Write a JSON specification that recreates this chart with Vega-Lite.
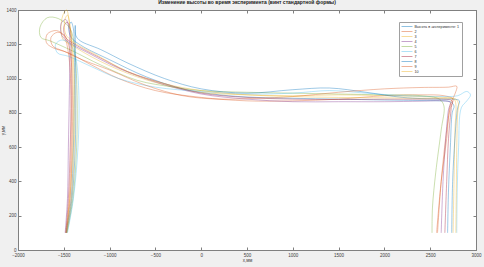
{
  "$schema": "https://vega.github.io/schema/vega-lite/v6.json",
  "autosize": {"type": "none"},
  "width": 458,
  "height": 240,
  "padding": {"left": 18, "top": 10, "right": 8, "bottom": 17},
  "background": "#f0f0f0",
  "title": {"text": "Изменение высоты во время эксперимента (винт стандартной формы)", "fontSize": 5, "fontWeight": "bold", "font": "Liberation Sans", "color": "#202020", "offset": 2, "anchor": "middle"},
  "config": {
    "view": {"fill": "white", "stroke": "#808080", "strokeWidth": 1},
    "font": "Liberation Sans",
    "axis": {"grid": false, "domainColor": "#808080", "tickColor": "#808080", "tickSize": -3, "labelPadding": 5, "labelFontSize": 4.5, "labelColor": "#404040", "titleFontSize": 4.5, "titleFontWeight": "normal", "titleColor": "#404040", "labelFlush": false, "format": "d"}
  },
  "data": {"values": [
    {"s":"1","i":0,"x":-1475,"y":100},{"s":"1","i":1,"x":-1420,"y":300},{"s":"1","i":2,"x":-1395,"y":600},{"s":"1","i":3,"x":-1385,"y":900},{"s":"1","i":4,"x":-1385,"y":1150},{"s":"1","i":5,"x":-1395,"y":1290},{"s":"1","i":6,"x":-1420,"y":1330},{"s":"1","i":7,"x":-1445,"y":1300},{"s":"1","i":8,"x":-1420,"y":1240},{"s":"1","i":9,"x":-1300,"y":1190},{"s":"1","i":10,"x":-1000,"y":1110},{"s":"1","i":11,"x":-600,"y":1010},{"s":"1","i":12,"x":-200,"y":940},{"s":"1","i":13,"x":200,"y":905},{"s":"1","i":14,"x":600,"y":890},{"s":"1","i":15,"x":1000,"y":885},{"s":"1","i":16,"x":1500,"y":880},{"s":"1","i":17,"x":2000,"y":875},{"s":"1","i":18,"x":2400,"y":872},{"s":"1","i":19,"x":2600,"y":870},{"s":"1","i":20,"x":2720,"y":865},{"s":"1","i":21,"x":2760,"y":840},{"s":"1","i":22,"x":2740,"y":800},{"s":"1","i":23,"x":2720,"y":600},{"s":"1","i":24,"x":2700,"y":350},{"s":"1","i":25,"x":2690,"y":100},

    {"s":"2","i":0,"x":-1470,"y":100},{"s":"2","i":1,"x":-1440,"y":300},{"s":"2","i":2,"x":-1420,"y":600},{"s":"2","i":3,"x":-1420,"y":900},{"s":"2","i":4,"x":-1450,"y":1150},{"s":"2","i":5,"x":-1500,"y":1250},{"s":"2","i":6,"x":-1580,"y":1280},{"s":"2","i":7,"x":-1680,"y":1260},{"s":"2","i":8,"x":-1690,"y":1210},{"s":"2","i":9,"x":-1620,"y":1180},{"s":"2","i":10,"x":-1450,"y":1150},{"s":"2","i":11,"x":-1200,"y":1080},{"s":"2","i":12,"x":-900,"y":1000},{"s":"2","i":13,"x":-500,"y":930},{"s":"2","i":14,"x":0,"y":890},{"s":"2","i":15,"x":500,"y":870},{"s":"2","i":16,"x":1000,"y":870},{"s":"2","i":17,"x":1500,"y":880},{"s":"2","i":18,"x":2000,"y":900},{"s":"2","i":19,"x":2400,"y":905},{"s":"2","i":20,"x":2650,"y":900},{"s":"2","i":21,"x":2750,"y":880},{"s":"2","i":22,"x":2720,"y":830},{"s":"2","i":23,"x":2680,"y":700},{"s":"2","i":24,"x":2620,"y":400},{"s":"2","i":25,"x":2580,"y":100},

    {"s":"3","i":0,"x":-1480,"y":100},{"s":"3","i":1,"x":-1435,"y":300},{"s":"3","i":2,"x":-1400,"y":600},{"s":"3","i":3,"x":-1395,"y":900},{"s":"3","i":4,"x":-1410,"y":1150},{"s":"3","i":5,"x":-1440,"y":1330},{"s":"3","i":6,"x":-1470,"y":1400},{"s":"3","i":7,"x":-1510,"y":1370},{"s":"3","i":8,"x":-1530,"y":1280},{"s":"3","i":9,"x":-1510,"y":1230},{"s":"3","i":10,"x":-1400,"y":1190},{"s":"3","i":11,"x":-1100,"y":1100},{"s":"3","i":12,"x":-700,"y":1010},{"s":"3","i":13,"x":-300,"y":950},{"s":"3","i":14,"x":0,"y":920},{"s":"3","i":15,"x":500,"y":905},{"s":"3","i":16,"x":1000,"y":900},{"s":"3","i":17,"x":1500,"y":905},{"s":"3","i":18,"x":2000,"y":900},{"s":"3","i":19,"x":2400,"y":895},{"s":"3","i":20,"x":2650,"y":890},{"s":"3","i":21,"x":2760,"y":880},{"s":"3","i":22,"x":2780,"y":850},{"s":"3","i":23,"x":2770,"y":700},{"s":"3","i":24,"x":2760,"y":400},{"s":"3","i":25,"x":2750,"y":100},

    {"s":"4","i":0,"x":-1485,"y":100},{"s":"4","i":1,"x":-1460,"y":300},{"s":"4","i":2,"x":-1450,"y":600},{"s":"4","i":3,"x":-1440,"y":900},{"s":"4","i":4,"x":-1435,"y":1150},{"s":"4","i":5,"x":-1445,"y":1300},{"s":"4","i":6,"x":-1480,"y":1345},{"s":"4","i":7,"x":-1530,"y":1320},{"s":"4","i":8,"x":-1520,"y":1250},{"s":"4","i":9,"x":-1440,"y":1210},{"s":"4","i":10,"x":-1200,"y":1140},{"s":"4","i":11,"x":-900,"y":1060},{"s":"4","i":12,"x":-500,"y":980},{"s":"4","i":13,"x":0,"y":910},{"s":"4","i":14,"x":500,"y":880},{"s":"4","i":15,"x":1000,"y":865},{"s":"4","i":16,"x":1500,"y":865},{"s":"4","i":17,"x":2000,"y":865},{"s":"4","i":18,"x":2400,"y":868},{"s":"4","i":19,"x":2650,"y":870},{"s":"4","i":20,"x":2720,"y":860},{"s":"4","i":21,"x":2700,"y":820},{"s":"4","i":22,"x":2670,"y":650},{"s":"4","i":23,"x":2640,"y":400},{"s":"4","i":24,"x":2620,"y":100},

    {"s":"5","i":0,"x":-1465,"y":100},{"s":"5","i":1,"x":-1400,"y":300},{"s":"5","i":2,"x":-1360,"y":600},{"s":"5","i":3,"x":-1355,"y":900},{"s":"5","i":4,"x":-1380,"y":1150},{"s":"5","i":5,"x":-1430,"y":1290},{"s":"5","i":6,"x":-1560,"y":1350},{"s":"5","i":7,"x":-1680,"y":1355},{"s":"5","i":8,"x":-1760,"y":1300},{"s":"5","i":9,"x":-1750,"y":1240},{"s":"5","i":10,"x":-1650,"y":1220},{"s":"5","i":11,"x":-1400,"y":1160},{"s":"5","i":12,"x":-1100,"y":1080},{"s":"5","i":13,"x":-700,"y":990},{"s":"5","i":14,"x":-300,"y":950},{"s":"5","i":15,"x":0,"y":930},{"s":"5","i":16,"x":500,"y":920},{"s":"5","i":17,"x":1000,"y":915},{"s":"5","i":18,"x":1500,"y":910},{"s":"5","i":19,"x":2000,"y":905},{"s":"5","i":20,"x":2400,"y":900},{"s":"5","i":21,"x":2600,"y":880},{"s":"5","i":22,"x":2650,"y":840},{"s":"5","i":23,"x":2620,"y":700},{"s":"5","i":24,"x":2560,"y":450},{"s":"5","i":25,"x":2525,"y":250},{"s":"5","i":26,"x":2520,"y":100},

    {"s":"6","i":0,"x":-1460,"y":100},{"s":"6","i":1,"x":-1395,"y":300},{"s":"6","i":2,"x":-1345,"y":600},{"s":"6","i":3,"x":-1335,"y":900},{"s":"6","i":4,"x":-1370,"y":1120},{"s":"6","i":5,"x":-1430,"y":1200},{"s":"6","i":6,"x":-1520,"y":1225},{"s":"6","i":7,"x":-1590,"y":1200},{"s":"6","i":8,"x":-1570,"y":1150},{"s":"6","i":9,"x":-1450,"y":1130},{"s":"6","i":10,"x":-1200,"y":1070},{"s":"6","i":11,"x":-900,"y":1000},{"s":"6","i":12,"x":-500,"y":950},{"s":"6","i":13,"x":0,"y":925},{"s":"6","i":14,"x":500,"y":910},{"s":"6","i":15,"x":1000,"y":915},{"s":"6","i":16,"x":1400,"y":930},{"s":"6","i":17,"x":1800,"y":915},{"s":"6","i":18,"x":2200,"y":900},{"s":"6","i":19,"x":2600,"y":895},{"s":"6","i":20,"x":2800,"y":900},{"s":"6","i":21,"x":2900,"y":925},{"s":"6","i":22,"x":2940,"y":905},{"s":"6","i":23,"x":2900,"y":870},{"s":"6","i":24,"x":2840,"y":830},{"s":"6","i":25,"x":2810,"y":600},{"s":"6","i":26,"x":2795,"y":350},{"s":"6","i":27,"x":2790,"y":100},

    {"s":"7","i":0,"x":-1478,"y":100},{"s":"7","i":1,"x":-1450,"y":300},{"s":"7","i":2,"x":-1430,"y":600},{"s":"7","i":3,"x":-1420,"y":900},{"s":"7","i":4,"x":-1420,"y":1150},{"s":"7","i":5,"x":-1430,"y":1290},{"s":"7","i":6,"x":-1465,"y":1330},{"s":"7","i":7,"x":-1500,"y":1300},{"s":"7","i":8,"x":-1480,"y":1240},{"s":"7","i":9,"x":-1380,"y":1200},{"s":"7","i":10,"x":-1100,"y":1120},{"s":"7","i":11,"x":-800,"y":1040},{"s":"7","i":12,"x":-400,"y":970},{"s":"7","i":13,"x":0,"y":915},{"s":"7","i":14,"x":500,"y":890},{"s":"7","i":15,"x":1000,"y":880},{"s":"7","i":16,"x":1500,"y":878},{"s":"7","i":17,"x":2000,"y":880},{"s":"7","i":18,"x":2400,"y":880},{"s":"7","i":19,"x":2650,"y":880},{"s":"7","i":20,"x":2740,"y":870},{"s":"7","i":21,"x":2730,"y":830},{"s":"7","i":22,"x":2700,"y":650},{"s":"7","i":23,"x":2680,"y":400},{"s":"7","i":24,"x":2660,"y":100},

    {"s":"8","i":0,"x":-1470,"y":100},{"s":"8","i":1,"x":-1410,"y":300},{"s":"8","i":2,"x":-1375,"y":600},{"s":"8","i":3,"x":-1370,"y":900},{"s":"8","i":4,"x":-1372,"y":1150},{"s":"8","i":5,"x":-1375,"y":1310},{"s":"8","i":6,"x":-1368,"y":1250},{"s":"8","i":7,"x":-1320,"y":1220},{"s":"8","i":8,"x":-1100,"y":1170},{"s":"8","i":9,"x":-800,"y":1090},{"s":"8","i":10,"x":-400,"y":1000},{"s":"8","i":11,"x":0,"y":940},{"s":"8","i":12,"x":500,"y":915},{"s":"8","i":13,"x":1000,"y":935},{"s":"8","i":14,"x":1400,"y":945},{"s":"8","i":15,"x":1800,"y":920},{"s":"8","i":16,"x":2200,"y":890},{"s":"8","i":17,"x":2600,"y":880},{"s":"8","i":18,"x":2760,"y":880},{"s":"8","i":19,"x":2820,"y":870},{"s":"8","i":20,"x":2800,"y":830},{"s":"8","i":21,"x":2770,"y":650},{"s":"8","i":22,"x":2745,"y":400},{"s":"8","i":23,"x":2735,"y":100},

    {"s":"9","i":0,"x":-1472,"y":100},{"s":"9","i":1,"x":-1430,"y":300},{"s":"9","i":2,"x":-1410,"y":600},{"s":"9","i":3,"x":-1405,"y":900},{"s":"9","i":4,"x":-1430,"y":1150},{"s":"9","i":5,"x":-1490,"y":1250},{"s":"9","i":6,"x":-1570,"y":1270},{"s":"9","i":7,"x":-1640,"y":1240},{"s":"9","i":8,"x":-1620,"y":1190},{"s":"9","i":9,"x":-1500,"y":1160},{"s":"9","i":10,"x":-1300,"y":1110},{"s":"9","i":11,"x":-1000,"y":1050},{"s":"9","i":12,"x":-600,"y":960},{"s":"9","i":13,"x":-200,"y":900},{"s":"9","i":14,"x":200,"y":880},{"s":"9","i":15,"x":600,"y":885},{"s":"9","i":16,"x":1000,"y":895},{"s":"9","i":17,"x":1500,"y":920},{"s":"9","i":18,"x":2000,"y":940},{"s":"9","i":19,"x":2400,"y":948},{"s":"9","i":20,"x":2700,"y":950},{"s":"9","i":21,"x":2790,"y":955},{"s":"9","i":22,"x":2770,"y":910},{"s":"9","i":23,"x":2720,"y":850},{"s":"9","i":24,"x":2680,"y":650},{"s":"9","i":25,"x":2620,"y":400},{"s":"9","i":26,"x":2570,"y":100},

    {"s":"10","i":0,"x":-1468,"y":100},{"s":"10","i":1,"x":-1415,"y":300},{"s":"10","i":2,"x":-1385,"y":600},{"s":"10","i":3,"x":-1380,"y":900},{"s":"10","i":4,"x":-1400,"y":1150},{"s":"10","i":5,"x":-1430,"y":1300},{"s":"10","i":6,"x":-1460,"y":1370},{"s":"10","i":7,"x":-1490,"y":1340},{"s":"10","i":8,"x":-1480,"y":1260},{"s":"10","i":9,"x":-1400,"y":1215},{"s":"10","i":10,"x":-1150,"y":1140},{"s":"10","i":11,"x":-800,"y":1040},{"s":"10","i":12,"x":-400,"y":970},{"s":"10","i":13,"x":0,"y":930},{"s":"10","i":14,"x":500,"y":905},{"s":"10","i":15,"x":1000,"y":895},{"s":"10","i":16,"x":1500,"y":890},{"s":"10","i":17,"x":2000,"y":888},{"s":"10","i":18,"x":2400,"y":885},{"s":"10","i":19,"x":2650,"y":885},{"s":"10","i":20,"x":2780,"y":880},{"s":"10","i":21,"x":2810,"y":850},{"s":"10","i":22,"x":2800,"y":800},{"s":"10","i":23,"x":2790,"y":600},{"s":"10","i":24,"x":2785,"y":350},{"s":"10","i":25,"x":2780,"y":100}
  ]},
  "layer": [
    {
      "mark": {"type": "line", "strokeWidth": 0.7, "opacity": 0.55, "interpolate": "catmull-rom"},
      "encoding": {
        "x": {"field": "x", "type": "quantitative", "scale": {"domain": [-2000, 3000], "nice": false, "zero": false}, "axis": {"values": [-2000,-1500,-1000,-500,0,500,1000,1500,2000,2500,3000], "title": "x,мм", "titlePadding": 1}},
        "y": {"field": "y", "type": "quantitative", "scale": {"domain": [0, 1400], "nice": false, "zero": false}, "axis": {"values": [0,200,400,600,800,1000,1200,1400], "title": "y,мм", "titleX": -13}},
        "order": {"field": "i", "type": "quantitative"},
        "color": {"field": "s", "type": "nominal",
          "scale": {"domain": ["1","2","3","4","5","6","7","8","9","10"], "range": ["#0072BD","#D95319","#EDB120","#7E2F8E","#77AC30","#4DBEEE","#A2142F","#0072BD","#D95319","#EDB120"]},
          "legend": {"title": null, "orient": "none", "legendX": 381, "legendY": 12, "labelExpr": "datum.label == '1' ? 'Высота в эксперименте: 1' : datum.label", "labelFontSize": 3.7, "labelColor": "#303030", "symbolType": "stroke", "symbolSize": 120, "symbolStrokeWidth": 0.8, "symbolOpacity": 0.55, "clipHeight": 5, "rowPadding": 0, "labelOffset": 1.5, "padding": 2, "strokeColor": "#a0a0a0", "fillColor": "white"}}
      }
    },
    {
      "mark": {"type": "point", "opacity": 0},
      "encoding": {
        "x": {"field": "x", "type": "quantitative", "axis": {"orient": "top", "values": [-2000,-1500,-1000,-500,0,500,1000,1500,2000,2500,3000], "labels": false, "title": null}},
        "y": {"field": "y", "type": "quantitative", "axis": {"orient": "right", "values": [0,200,400,600,800,1000,1200,1400], "labels": false, "title": null}}
      }
    }
  ],
  "resolve": {"axis": {"x": "independent", "y": "independent"}}
}
